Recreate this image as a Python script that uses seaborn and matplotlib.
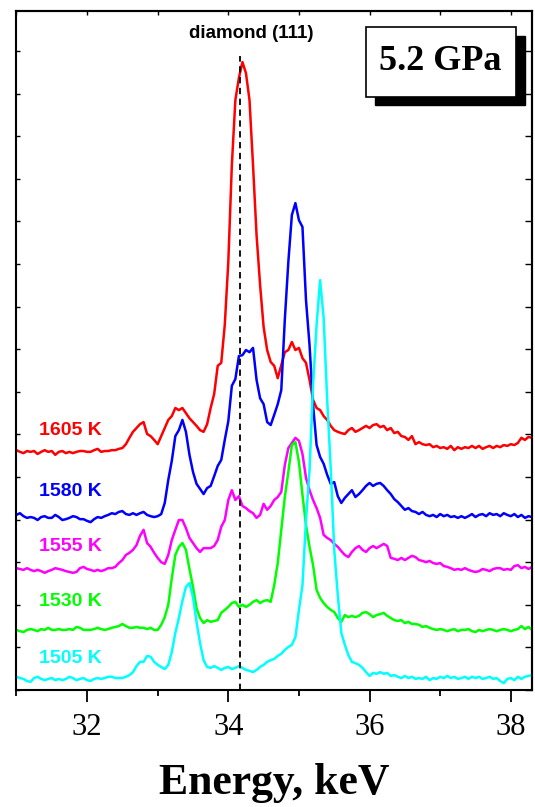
import numpy as np
import pandas as pd
import seaborn as sns
import matplotlib.pyplot as plt
from matplotlib.patches import Rectangle
from matplotlib.ticker import MultipleLocator

# energy channels, keV (0.05 keV step)
energy = np.linspace(31.0, 38.3, 147)

# intensities as plotted (vertical offsets included), arb. units
i1605 = [5.63, 5.59, 5.56, 5.61, 5.59, 5.61, 5.54, 5.59, 5.63, 5.59,
         5.61, 5.52, 5.59, 5.61, 5.56, 5.59, 5.56, 5.59, 5.61, 5.61,
         5.59, 5.59, 5.63, 5.66, 5.59, 5.61, 5.61, 5.63, 5.63, 5.66,
         5.68, 5.77, 5.92, 6.06, 6.15, 6.24, 6.29, 6.01, 5.96, 5.87,
         5.77, 5.96, 6.15, 6.34, 6.43, 6.62, 6.57, 6.62, 6.50, 6.38,
         6.29, 6.20, 6.10, 6.06, 6.24, 6.62, 6.95, 7.61, 7.68, 8.57,
         10.05, 12.32, 13.85, 14.37, 14.74, 14.48, 13.85, 12.32, 10.68, 9.51,
         8.52, 7.98, 7.70, 7.61, 7.32, 7.63, 7.93, 7.98, 8.17, 7.98,
         8.03, 7.79, 7.68, 7.28, 6.81, 6.62, 6.57, 6.43, 6.34, 6.20,
         6.10, 6.06, 6.03, 6.01, 6.10, 6.15, 6.06, 6.10, 6.15, 6.20,
         6.15, 6.22, 6.24, 6.17, 6.20, 6.10, 6.15, 6.03, 6.06, 5.96,
         5.94, 5.87, 5.96, 5.77, 5.82, 5.77, 5.75, 5.77, 5.70, 5.73,
         5.68, 5.70, 5.66, 5.73, 5.63, 5.70, 5.66, 5.70, 5.68, 5.73,
         5.68, 5.73, 5.66, 5.70, 5.73, 5.68, 5.73, 5.70, 5.75, 5.73,
         5.77, 5.75, 5.80, 5.92, 5.87, 5.94, 5.92]

i1580 = [4.11, 4.15, 4.08, 4.04, 4.06, 4.04, 3.99, 4.06, 4.08, 4.04,
         4.04, 4.11, 4.06, 3.99, 4.01, 4.04, 4.08, 4.06, 4.01, 4.01,
         3.97, 3.94, 4.01, 4.06, 4.04, 4.08, 4.11, 4.15, 4.13, 4.18,
         4.20, 4.13, 4.11, 4.15, 4.11, 4.15, 4.18, 4.11, 4.08, 4.06,
         4.08, 4.13, 4.39, 4.93, 5.38, 5.96, 6.10, 6.34, 6.06, 5.52,
         5.12, 4.84, 4.72, 4.60, 4.74, 4.79, 5.02, 5.26, 5.40, 5.87,
         6.31, 7.14, 7.30, 7.84, 7.86, 7.98, 7.93, 8.03, 7.28, 6.85,
         6.71, 6.29, 6.22, 6.46, 6.71, 7.04, 8.69, 10.05, 11.15, 11.43,
         11.03, 10.87, 9.15, 8.10, 6.69, 5.75, 5.47, 5.31, 5.05, 4.84,
         4.88, 4.55, 4.39, 4.51, 4.60, 4.69, 4.53, 4.60, 4.69, 4.79,
         4.86, 4.79, 4.84, 4.86, 4.79, 4.69, 4.60, 4.48, 4.41, 4.32,
         4.23, 4.27, 4.20, 4.18, 4.13, 4.18, 4.11, 4.08, 4.11, 4.06,
         4.13, 4.08, 4.11, 4.06, 4.08, 4.04, 4.08, 4.04, 4.08, 4.13,
         4.06, 4.11, 4.13, 4.08, 4.15, 4.11, 4.13, 4.08, 4.15, 4.11,
         4.08, 4.13, 4.06, 4.11, 4.04, 4.08, 4.06]

i1555 = [2.86, 2.84, 2.82, 2.86, 2.82, 2.79, 2.82, 2.79, 2.75, 2.79,
         2.82, 2.86, 2.84, 2.82, 2.79, 2.77, 2.75, 2.77, 2.86, 2.89,
         2.84, 2.82, 2.79, 2.82, 2.79, 2.82, 2.86, 2.86, 2.89, 2.98,
         3.05, 3.17, 3.22, 3.29, 3.40, 3.62, 3.76, 3.45, 3.36, 3.22,
         3.10, 3.00, 2.96, 3.17, 3.52, 3.76, 3.99, 3.99, 3.80, 3.57,
         3.45, 3.33, 3.24, 3.33, 3.33, 3.33, 3.38, 3.52, 3.83, 3.99,
         4.46, 4.69, 4.46, 4.55, 4.32, 4.27, 4.20, 4.15, 4.04, 4.11,
         4.37, 4.23, 4.32, 4.46, 4.53, 4.65, 5.28, 5.68, 5.80, 5.92,
         5.85, 5.54, 4.98, 4.69, 4.46, 4.27, 4.04, 3.64, 3.57, 3.52,
         3.43, 3.36, 3.26, 3.17, 3.12, 3.24, 3.33, 3.38, 3.29, 3.24,
         3.33, 3.38, 3.33, 3.38, 3.43, 3.38, 3.10, 3.08, 3.05, 3.10,
         3.05, 3.10, 3.15, 3.12, 3.05, 3.03, 3.00, 3.03, 2.98, 2.96,
         2.98, 2.91, 2.89, 2.86, 2.82, 2.84, 2.82, 2.86, 2.82, 2.79,
         2.77, 2.79, 2.84, 2.82, 2.79, 2.84, 2.86, 2.86, 2.82, 2.84,
         2.82, 2.91, 2.93, 2.86, 2.89, 2.84, 2.89]

i1530 = [1.41, 1.38, 1.36, 1.41, 1.43, 1.41, 1.38, 1.43, 1.41, 1.46,
         1.41, 1.41, 1.43, 1.41, 1.41, 1.43, 1.41, 1.48, 1.46, 1.41,
         1.41, 1.41, 1.43, 1.46, 1.43, 1.41, 1.43, 1.46, 1.48, 1.50,
         1.55, 1.50, 1.46, 1.46, 1.48, 1.46, 1.46, 1.43, 1.46, 1.41,
         1.41, 1.53, 1.71, 2.00, 2.63, 3.17, 3.36, 3.45, 3.29, 2.84,
         2.42, 1.92, 1.69, 1.57, 1.64, 1.60, 1.62, 1.64, 1.81, 1.88,
         1.95, 2.04, 2.07, 1.95, 2.00, 1.95, 2.00, 2.07, 2.11, 2.04,
         2.09, 2.11, 2.07, 2.46, 2.98, 3.76, 4.53, 5.12, 5.75, 5.82,
         5.35, 4.58, 3.87, 3.36, 2.93, 2.35, 2.16, 2.04, 1.95, 1.88,
         1.83, 1.69, 1.60, 1.76, 1.71, 1.74, 1.71, 1.74, 1.81, 1.83,
         1.78, 1.71, 1.76, 1.78, 1.81, 1.74, 1.69, 1.64, 1.62, 1.64,
         1.57, 1.60, 1.55, 1.55, 1.53, 1.48, 1.50, 1.46, 1.43, 1.41,
         1.43, 1.41, 1.38, 1.41, 1.43, 1.38, 1.41, 1.41, 1.43, 1.38,
         1.36, 1.41, 1.38, 1.41, 1.43, 1.41, 1.38, 1.41, 1.43, 1.41,
         1.38, 1.41, 1.43, 1.50, 1.43, 1.48, 1.41]

i1505 = [0.31, 0.28, 0.26, 0.21, 0.19, 0.28, 0.31, 0.26, 0.23, 0.26,
         0.28, 0.23, 0.26, 0.23, 0.26, 0.31, 0.28, 0.23, 0.26, 0.28,
         0.23, 0.21, 0.26, 0.28, 0.26, 0.28, 0.31, 0.31, 0.28, 0.28,
         0.28, 0.31, 0.35, 0.42, 0.56, 0.66, 0.66, 0.80, 0.78, 0.66,
         0.59, 0.54, 0.49, 0.59, 0.89, 1.34, 1.69, 2.09, 2.42, 2.51,
         2.18, 1.60, 1.10, 0.70, 0.54, 0.52, 0.56, 0.52, 0.47, 0.52,
         0.54, 0.49, 0.52, 0.56, 0.52, 0.47, 0.45, 0.42, 0.47, 0.54,
         0.59, 0.66, 0.70, 0.73, 0.80, 0.85, 0.94, 1.01, 1.06, 1.24,
         1.88, 2.46, 3.99, 5.16, 7.16, 8.57, 9.62, 8.73, 6.81, 5.21,
         3.29, 2.23, 1.34, 1.06, 0.82, 0.66, 0.63, 0.59, 0.52, 0.42,
         0.33, 0.40, 0.38, 0.42, 0.38, 0.40, 0.33, 0.35, 0.31, 0.28,
         0.33, 0.28, 0.31, 0.26, 0.28, 0.26, 0.31, 0.23, 0.28, 0.26,
         0.31, 0.28, 0.33, 0.28, 0.31, 0.26, 0.28, 0.31, 0.26, 0.31,
         0.28, 0.31, 0.26, 0.28, 0.31, 0.26, 0.28, 0.21, 0.16, 0.26,
         0.28, 0.23, 0.31, 0.26, 0.31, 0.33, 0.35]

temps = ['1605 K', '1580 K', '1555 K', '1530 K', '1505 K']
colors = ['#ff0000', '#0000ff', '#ff00ff', '#00ff00', '#00ffff']
label_y = [6.10, 4.67, 3.38, 2.07, 0.75]
xtick_vals = [32, 34, 36, 38]
diamond_111 = 34.17

df = pd.DataFrame({
    'energy': np.tile(energy, len(temps)),
    'intensity': np.concatenate([i1605, i1580, i1555, i1530, i1505]),
    'T': np.repeat(temps, len(energy)),
})

sns.set_style('ticks')
plt.rcParams['font.family'] = ['Liberation Sans', 'DejaVu Sans']
plt.rcParams.update({'text.color': 'black', 'axes.labelcolor': 'black',
                     'xtick.color': 'black', 'ytick.color': 'black',
                     'axes.edgecolor': 'black'})

fig = plt.figure(figsize=(5.35, 8.07), dpi=100)
ax = fig.add_axes([0.0307, 0.145, 0.9637, 0.8414])

sns.lineplot(data=df, x='energy', y='intensity', hue='T', hue_order=temps,
             palette=dict(zip(temps, colors)), estimator=None, sort=False,
             legend=False, lw=1.8, ax=ax)

# diamond (111) line
ax.vlines(diamond_111, 0, 14.88, colors='k', linestyles=(0, (3.5, 2.5)),
          lw=1.3, zorder=5)
ax.text(34.32, 15.40, 'diamond (111)', fontsize=13.5, fontweight='bold',
        ha='center', va='center', color='black')

for t, c, yy in zip(temps, colors, label_y):
    ax.text(31.32, yy, t, color=c, fontsize=14, fontweight='bold',
            ha='left', va='center')

# pressure box with shadow
ax.add_patch(Rectangle((0.696, 0.861), 0.290, 0.1026, transform=ax.transAxes,
                       facecolor='black', edgecolor='black', zorder=6))
ax.add_patch(Rectangle((0.678, 0.874), 0.290, 0.1026, transform=ax.transAxes,
                       facecolor='white', edgecolor='black', lw=1.2, zorder=7))
ax.text(0.8225, 0.9256, '5.2 GPa', transform=ax.transAxes, fontsize=26,
        fontweight='bold', family='Liberation Serif', ha='center', va='center',
        color='black', zorder=8)

ax.set_xlim(31.0, 38.3)
ax.set_ylim(0, 15.94)
ax.set_xticks(xtick_vals, labels=[str(v) for v in xtick_vals],
              fontfamily='Liberation Serif', fontsize=22, color='black')
ax.xaxis.set_minor_locator(MultipleLocator(1))
ax.tick_params(axis='x', which='major', direction='out', length=8.6, width=1.3,
               pad=8, color='k')
ax.tick_params(axis='x', which='minor', direction='out', length=4.3, width=1.3,
               color='k')
ax.yaxis.set_major_locator(MultipleLocator(1))
ax.tick_params(axis='y', direction='in', length=3, width=1.0, labelleft=False,
               color='k')

sec_top = ax.secondary_xaxis('top')
sec_top.xaxis.set_major_locator(MultipleLocator(1))
sec_top.tick_params(direction='in', length=3, width=1.0, labeltop=False,
                    color='k')
sec_right = ax.secondary_yaxis('right')
sec_right.yaxis.set_major_locator(MultipleLocator(1))
sec_right.tick_params(direction='in', length=5, width=1.0, labelright=False,
                      color='k')
for a in (ax, sec_top, sec_right):
    for sp in a.spines.values():
        sp.set_linewidth(1.5)
        sp.set_color('k')

ax.set_ylabel('')
ax.set_xlabel('Energy, keV', fontfamily='Liberation Serif', fontweight='bold',
              fontsize=31.5, labelpad=15, color='black')

fig.savefig('out.png', dpi=100)
